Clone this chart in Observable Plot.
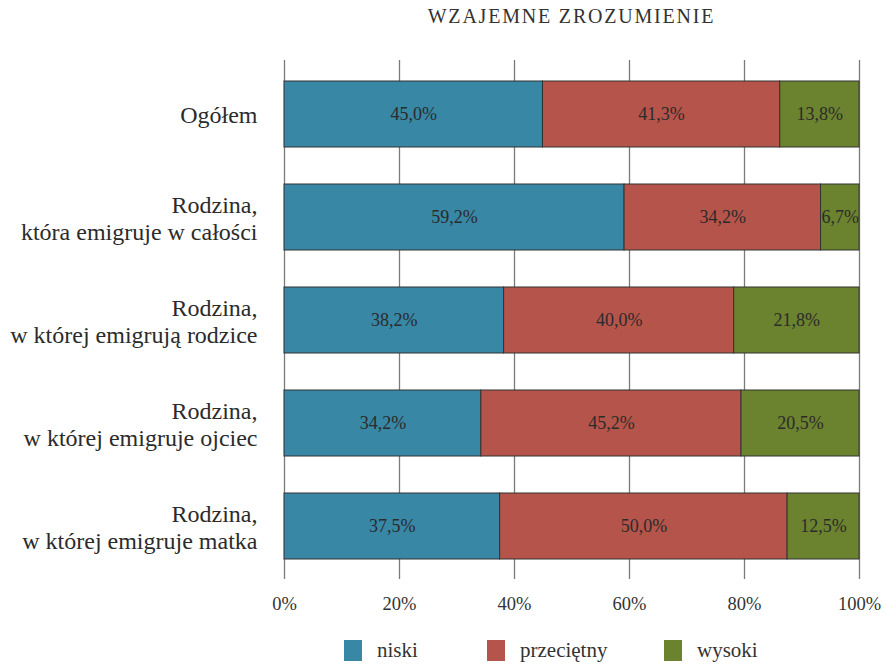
<!DOCTYPE html>
<html><head><meta charset="utf-8">
<script src="https://cdn.jsdelivr.net/npm/d3@7"></script>
<script src="https://cdn.jsdelivr.net/npm/@observablehq/plot@0.6"></script>
<style>
body{margin:0;background:#fff;font-family:"Liberation Serif",serif;color:#333;width:886px;}
#title{height:40px;box-sizing:border-box;padding-top:5px;padding-left:284px;width:859px;text-align:center;font-size:20px;letter-spacing:1.8px;line-height:22px;color:#333;}
#chart{height:585px;}
#chart svg text{font-family:"Liberation Serif",serif;}
#legend{position:relative;height:42px;}
.item{position:absolute;top:13px;display:flex;align-items:center;font-size:21px;color:#333;}
.sw{width:18px;height:21px;margin-right:15px;}
</style></head><body>
<div id="title">WZAJEMNE ZROZUMIENIE</div>
<div id="chart"></div>
<div id="legend"></div>
<script>
const categories = [
  "Ogółem",
  "Rodzina,\nktóra emigruje w całości",
  "Rodzina,\nw której emigrują rodzice",
  "Rodzina,\nw której emigruje ojciec",
  "Rodzina,\nw której emigruje matka"
];
const levels = ["niski", "przeciętny", "wysoki"];
const niski = [45.0, 59.2, 38.2, 34.2, 37.5];
const przecietny = [41.3, 34.2, 40.0, 45.2, 50.0];
const wysoki = [13.8, 6.7, 21.8, 20.5, 12.5];
const colors = ["#3787a5", "#b5544a", "#6b822f"];
const xTicks = [0, 20, 40, 60, 80, 100];
const legendLeft = [344, 487, 664];

const series = [niski, przecietny, wysoki];
const data = [];
categories.forEach((c, i) => levels.forEach((l, j) => data.push({cat: c, level: l, value: series[j][i]})));
const fmt = v => v.toFixed(1).replace(".", ",") + "%";
const serif = "Liberation Serif, serif";

const plot = Plot.plot({
  width: 886, height: 585,
  marginLeft: 284, marginRight: 27, marginTop: 20, marginBottom: 46,
  x: {domain: [0, 1], axis: null},
  y: {domain: categories, paddingInner: 0.36, paddingOuter: 0.18, axis: null},
  color: {domain: levels, range: colors},
  style: {fontFamily: serif, color: "#333", background: "#fff"},
  marks: [
    Plot.ruleX(xTicks, {x: d => d / 100, stroke: "#7a7a7a", strokeWidth: 1.3}),
    Plot.barX(data, Plot.stackX({x: "value", y: "cat", z: "level", fill: "level", offset: "normalize", stroke: "#333", strokeWidth: 1})),
    Plot.text(data, Plot.stackX({x: "value", y: "cat", z: "level", offset: "normalize", text: d => fmt(d.value), fontSize: 18, fontFamily: serif, fill: "#2b2b2b"})),
    Plot.axisY({label: null, tickSize: 0, tickPadding: 27, fontSize: 24, fontFamily: serif, lineHeight: 1.13, fill: "#2b2b2b"}),
    Plot.axisX({label: null, ticks: xTicks.map(d => d / 100), tickFormat: d => Math.round(d * 100) + "%", tickSize: 0, tickPadding: 17, fontSize: 18.5, fontFamily: serif, fill: "#333"})
  ]
});
document.getElementById("chart").appendChild(plot);

const legend = document.getElementById("legend");
levels.forEach((l, j) => {
  const it = document.createElement("div");
  it.className = "item";
  it.style.left = legendLeft[j] + "px";
  it.innerHTML = `<div class="sw" style="background:${colors[j]}"></div><span>${l}</span>`;
  legend.appendChild(it);
});
</script>
</body></html>
